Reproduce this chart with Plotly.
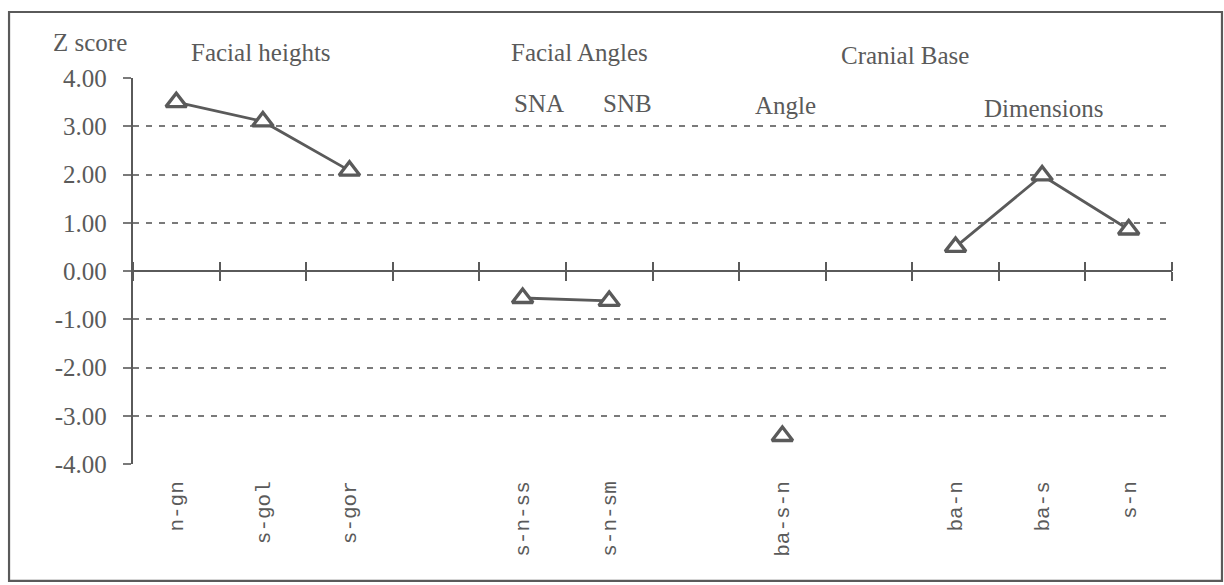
import plotly.graph_objects as go

# ---- data ----
categories = ["n-gn", "s-gol", "s-gor", " ", "s-n-ss", "s-n-sm", "  ", "ba-s-n", "   ", "ba-n", "ba-s", "s-n"]
z_scores = [3.50, 3.10, 2.08, None, -0.56, -0.62, None, -3.42, None, 0.50, 1.98, 0.86]
y_ticks = [-4, -3, -2, -1, 0, 1, 2, 3, 4]
y_ticklabels = ["-4.00", "-3.00", "-2.00", "-1.00", "0.00", "1.00", "2.00", "3.00", "4.00"]
group_labels = ["Z score", "Facial heights", "Facial Angles", "Cranial Base", "SNA", "SNB", "Angle", "Dimensions"]

INK = "#5a5a5a"
GRID = "#7a7a7a"
SERIF = "Liberation Serif, Times New Roman, serif"
MONO = "Liberation Mono, Courier New, monospace"

fig = go.Figure()

# hidden helper traces so the zero-line tick axes know the categories
for ax in ("x2", "x3"):
    fig.add_trace(go.Scatter(x=categories, y=[None] * len(categories), xaxis=ax, yaxis="y",
                             mode="lines", showlegend=False, hoverinfo="skip"))

fig.add_trace(go.Scatter(
    x=categories, y=z_scores, mode="lines+markers",
    line=dict(color=INK, width=2.8),
    marker=dict(symbol="triangle-up", size=18, color="white",
                line=dict(color=INK, width=3.3)),
    connectgaps=False, showlegend=False, hoverinfo="skip",
))

common_x = dict(type="category", categoryorder="array", categoryarray=categories,
                range=[-0.5, len(categories) - 0.5])

fig.update_layout(
    width=1224, height=585,
    margin=dict(l=133, r=52, t=78, b=121),
    paper_bgcolor="white", plot_bgcolor="white",
    xaxis=dict(**common_x, showline=False, showgrid=False, zeroline=False, ticks="",
               tickangle=-90, tickfont=dict(family=MONO, size=21, color=INK),
               ticklabelstandoff=12),
    xaxis2=dict(**common_x, overlaying="x", anchor="free", position=0.5, side="bottom",
                showline=False, showgrid=False, zeroline=False, showticklabels=False,
                ticks="outside", ticklen=9, tickwidth=2.2, tickcolor=INK, tickson="boundaries"),
    xaxis3=dict(**common_x, overlaying="x", anchor="free", position=0.5, side="top",
                showline=False, showgrid=False, zeroline=False, showticklabels=False,
                ticks="outside", ticklen=9, tickwidth=2.2, tickcolor=INK, tickson="boundaries"),
    yaxis=dict(range=[-4, 4], tickmode="array", tickvals=y_ticks, ticktext=y_ticklabels,
               showline=True, linecolor=INK, linewidth=2.4,
               ticks="outside", ticklen=8, tickwidth=2, tickcolor=GRID,
               showgrid=True, gridcolor=GRID, gridwidth=2, griddash="6px,7px",
               zeroline=True, zerolinecolor=INK, zerolinewidth=2.4,
               tickfont=dict(family=SERIF, size=25, color=INK), ticklabelstandoff=11),
)

# group headings (text positioned in paper coordinates)
label_pos = {
    "Z score": (-0.0414, 1.093),
    "Facial heights": (0.123, 1.067),
    "Facial Angles": (0.430, 1.065),
    "Cranial Base": (0.743, 1.057),
    "SNA": (0.391, 0.933),
    "SNB": (0.476, 0.933),
    "Angle": (0.628, 0.928),
    "Dimensions": (0.876, 0.922),
}
for t in group_labels:
    px, py = label_pos[t]
    fig.add_annotation(text=t, xref="paper", yref="paper", x=px, y=py,
                       xanchor="center", yanchor="middle", showarrow=False,
                       font=dict(family=SERIF, size=25, color=INK))

# outer frame of the figure
fig.add_shape(type="rect", xref="paper", yref="paper",
              x0=-0.1193, x1=1.0481, y0=-0.303, y1=1.171,
              line=dict(color=INK, width=2.2), fillcolor="rgba(0,0,0,0)", layer="below")

fig.write_html("out.html")
